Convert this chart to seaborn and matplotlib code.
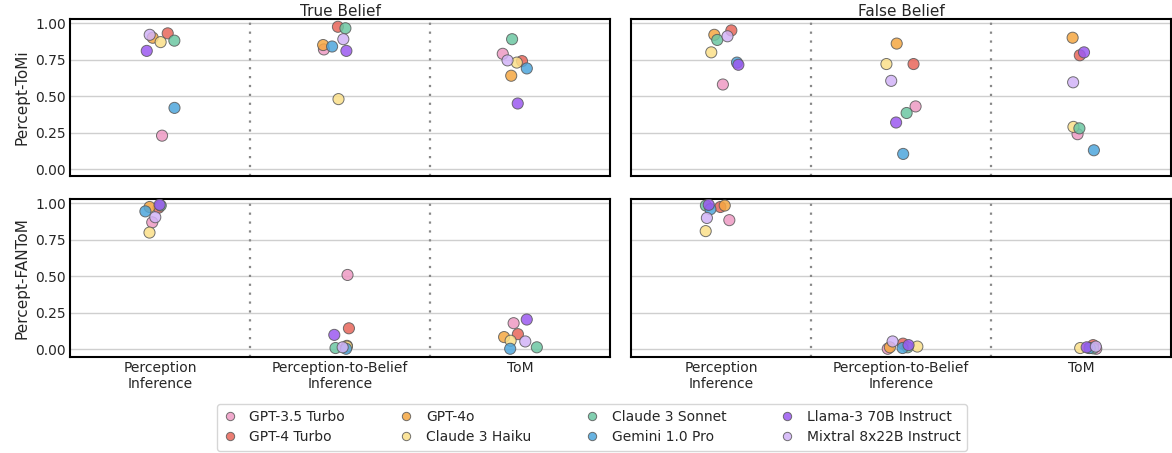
import numpy as np
import pandas as pd
import matplotlib
matplotlib.use("Agg")
import matplotlib.pyplot as plt
import seaborn as sns

models = ["GPT-3.5 Turbo", "GPT-4 Turbo", "GPT-4o", "Claude 3 Haiku",
          "Claude 3 Sonnet", "Gemini 1.0 Pro", "Llama-3 70B Instruct",
          "Mixtral 8x22B Instruct"]
colors = ["#ee9ac4", "#e8665a", "#f5a742", "#fbe08a",
          "#6cc7a3", "#4ea6dc", "#9b59f0", "#d2b3f7"]
categories = ["Perception\nInference", "Perception-to-Belief\nInference", "ToM"]
benchmarks = ["Percept-ToMi", "Percept-FANToM"]
beliefs = ["True Belief", "False Belief"]

# values per category, ordered like `models`
tomi_true = {
    "Perception\nInference":          [0.23, 0.93, 0.90, 0.87, 0.88, 0.42, 0.81, 0.92],
    "Perception-to-Belief\nInference": [0.82, 0.975, 0.85, 0.48, 0.965, 0.84, 0.81, 0.89],
    "ToM":                             [0.79, 0.74, 0.64, 0.73, 0.89, 0.69, 0.45, 0.745],
}
tomi_false = {
    "Perception\nInference":          [0.58, 0.95, 0.92, 0.80, 0.885, 0.73, 0.715, 0.91],
    "Perception-to-Belief\nInference": [0.43, 0.72, 0.86, 0.72, 0.385, 0.105, 0.32, 0.605],
    "ToM":                             [0.24, 0.78, 0.90, 0.29, 0.28, 0.13, 0.80, 0.595],
}
fantom_true = {
    "Perception\nInference":          [0.87, 0.97, 0.975, 0.80, 0.985, 0.945, 0.99, 0.905],
    "Perception-to-Belief\nInference": [0.51, 0.145, 0.025, 0.02, 0.01, 0.005, 0.10, 0.015],
    "ToM":                             [0.18, 0.105, 0.085, 0.06, 0.015, 0.005, 0.205, 0.055],
}
fantom_false = {
    "Perception\nInference":          [0.885, 0.975, 0.985, 0.81, 0.985, 0.96, 0.99, 0.90],
    "Perception-to-Belief\nInference": [0.005, 0.04, 0.015, 0.02, 0.015, 0.01, 0.03, 0.055],
    "ToM":                             [0.005, 0.03, 0.01, 0.01, 0.008, 0.01, 0.015, 0.02],
}

panels = {("Percept-ToMi", "True Belief"): tomi_true,
          ("Percept-ToMi", "False Belief"): tomi_false,
          ("Percept-FANToM", "True Belief"): fantom_true,
          ("Percept-FANToM", "False Belief"): fantom_false}

rows = []
for (bench, belief), d in panels.items():
    for cat in categories:
        for m, v in zip(models, d[cat]):
            rows.append(dict(benchmark=bench, belief=belief, category=cat,
                             model=m, score=v))
df = pd.DataFrame(rows)

sns.set_theme(style="whitegrid")
plt.rcParams["font.family"] = ["DejaVu Sans"]

np.random.seed(3)
fig, axes = plt.subplots(2, 2, figsize=(11.72, 4.53), dpi=100, sharey=True)
fig.subplots_adjust(left=0.06, right=0.999, top=0.958, bottom=0.213,
                    wspace=0.04, hspace=0.146)
palette = dict(zip(models, colors))

for i, bench in enumerate(benchmarks):
    for j, belief in enumerate(beliefs):
        ax = axes[i, j]
        sub = df[(df.benchmark == bench) & (df.belief == belief)]
        sns.stripplot(data=sub, x="category", y="score", hue="model",
                      order=categories, hue_order=models, palette=palette,
                      jitter=0.1, size=8, alpha=0.85, linewidth=0.7,
                      edgecolor="gray", ax=ax, legend=(i == 0 and j == 0))
        ax.set_ylim(-0.048, 1.028)
        ax.set_xlim(-0.5, 2.5)
        ax.set_yticks([0, 0.25, 0.5, 0.75, 1.0])
        ax.set_yticklabels(["0.00", "0.25", "0.50", "0.75", "1.00"])
        ax.grid(axis="x", visible=False)
        ax.grid(axis="y", color="#cfcfcf", linewidth=1.0)
        for x in (0.5, 1.5):
            ax.axvline(x, color="#888888", linestyle=(0, (1, 3)), linewidth=1.6)
        for s in ax.spines.values():
            s.set_color("black")
            s.set_linewidth(1.5)
        ax.set_xlabel("")
        ax.tick_params(axis="both", labelsize=10, length=0, pad=3)
        if i == 0:
            ax.set_title(belief, fontsize=11, pad=2)
            ax.set_xticklabels([])
        if j == 0:
            ax.set_ylabel(bench, fontsize=11, labelpad=4)
        else:
            ax.set_ylabel("")

handles, labels = axes[0, 0].get_legend_handles_labels()
axes[0, 0].get_legend().remove()
leg = fig.legend(handles, labels, loc="lower center", ncol=4,
                 bbox_to_anchor=(0.505, -0.01), fontsize=10, frameon=True,
                 columnspacing=3.9, handlelength=1.0, handletextpad=0.9,
                 borderpad=0.45, labelspacing=0.45, markerscale=0.75)
leg.get_frame().set_edgecolor("#cccccc")

fig.savefig("out.png", dpi=100)
